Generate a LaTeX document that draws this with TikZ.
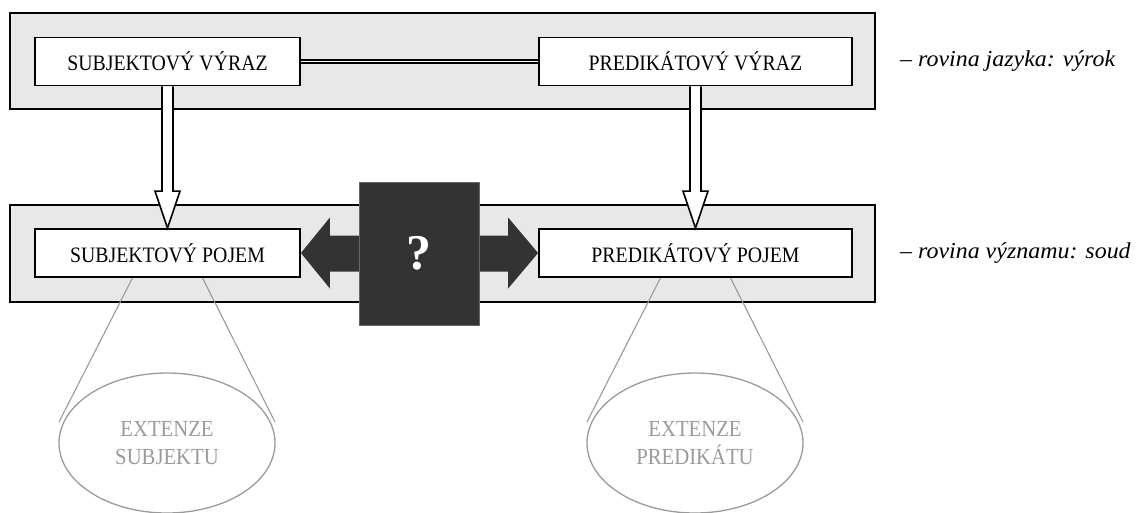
\documentclass[tikz,border=0pt]{standalone}
\usepackage{fontspec}
\setmainfont{Liberation Serif}
\newfontfamily\condserif[FakeStretch=0.9]{Liberation Serif}
\newfontfamily\wideitalic[FakeStretch=1.05]{Liberation Serif Italic}
\usetikzlibrary{calc,shapes.geometric}
\definecolor{panelgray}{HTML}{E8E8E8}
\definecolor{darkq}{HTML}{333333}
\definecolor{extgray}{HTML}{9A9A9A}
\begin{document}
\begin{tikzpicture}[x=1pt,y=-1pt,
  panel/.style={draw=black,line width=1.9pt,fill=panelgray},
  termbox/.style={draw=black,line width=1.8pt,fill=white,minimum height=48pt,
    inner sep=0pt,font=\condserif\fontsize{22}{24}\selectfont},
  level/.style={anchor=west,font=\wideitalic\fontsize{22.8}{24}\selectfont,inner sep=0pt},
  extension/.style={draw=extgray,line width=1.3pt,ellipse,minimum width=216pt,minimum height=140pt,
    inner sep=0pt,text=extgray,align=center,font=\condserif\fontsize{23}{28.5}\selectfont},
  ray/.style={draw=extgray,line width=1.1pt},
  downarrow/.style={draw=black,line width=1.6pt,fill=white,line join=miter},
]
\useasboundingbox (0,0) rectangle (1148,513);

% two levels
\draw[panel] (10,13) rectangle (875,109);
\draw[panel] (10,205) rectangle (875,302);

% terms
\node[termbox,minimum width=265pt] (sv) at (167.5,61.5) {SUBJEKTOVÝ VÝRAZ};
\node[termbox,minimum width=313pt] (pv) at (695.5,61.5) {PREDIKÁTOVÝ VÝRAZ};
\node[termbox,minimum width=265pt] (sp) at (167.5,253) {SUBJEKTOVÝ POJEM};
\node[termbox,minimum width=313pt] (pp) at (695.5,253) {PREDIKÁTOVÝ POJEM};

% level labels
\node[level] (l1) at (900,61) {– rovina jazyka: výrok};
\node[level] (l2) at (900,253) {– rovina významu: soud};

% link between the two expressions
\draw[double=white,double distance=1.3pt,line width=2.1pt] (sv.east) -- (pv.west);

% expression -> concept arrows
\foreach \a/\b in {sv/sp,pv/pp}{
  \draw[downarrow]
    ($(\a.south)+(-5.5,0)$) -- ($(\b.north)+(-5.5,-37)$) -- ($(\b.north)+(-12.5,-37)$)
    -- (\b.north) -- ($(\b.north)+(12.5,-37)$) -- ($(\b.north)+(5.5,-37)$)
    -- ($(\a.south)+(5.5,0)$);
}

% double arrow between the concepts
\fill[darkq] (sp.east) -- ($(sp.east)+(29,-35.5)$) -- ($(sp.east)+(29,-17.5)$)
  -- ($(pp.west)+(-30,-17.5)$) -- ($(pp.west)+(-30,-35.5)$) -- (pp.west)
  -- ($(pp.west)+(-30,35.5)$) -- ($(pp.west)+(-30,18.5)$)
  -- ($(sp.east)+(29,18.5)$) -- ($(sp.east)+(29,35.5)$) -- cycle;
\node[draw=black!60,line width=0.6pt,fill=darkq,minimum width=120pt,minimum height=143pt,
  inner sep=0pt,text=white,font=\fontsize{50}{50}\selectfont\bfseries] (q) at (419,253.5) {?};

% extensions
\node[extension] (se) at (167,443) {EXTENZE\\SUBJEKTU};
\node[extension] (pe) at (695,443) {EXTENZE\\PREDIKÁTU};
\foreach \c/\e in {sp/se,pp/pe}{
  \coordinate (\c L) at ($(\c.south)+(-35,0)$);
  \coordinate (\c R) at ($(\c.south)+(35,0)$);
  \coordinate (\e L) at ($(\e.center)+(-108,-21)$);
  \coordinate (\e R) at ($(\e.center)+(108,-21)$);
  \draw[ray] (\c L) -- (\e L);
  \draw[ray] (\c R) -- (\e R);
}
\end{tikzpicture}
\end{document}
